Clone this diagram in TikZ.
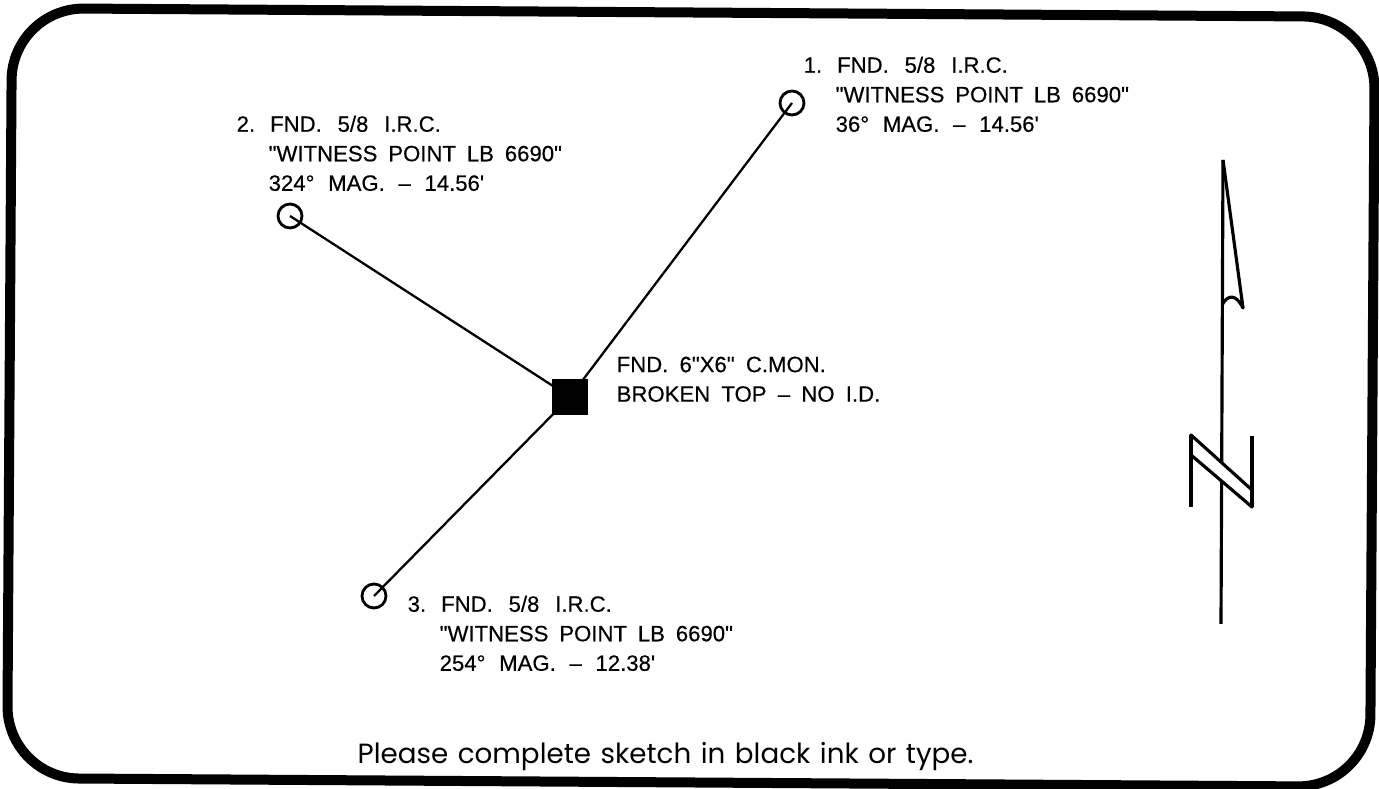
\documentclass[tikz,border=0pt]{standalone}
\usepackage{fontspec}
\newfontfamily\calloutFont{Liberation Sans}[FakeBold=0.4]
\newfontfamily\noteFont{Poppins}
\usepackage{xcolor}
\usepackage{tikz}
\usetikzlibrary{positioning}
\tikzset{
  pin/.style={draw, circle, thick, inner sep=0pt, minimum size=0.24cm},
  monument/.style={fill=black, inner sep=0pt, minimum size=0.36cm},
  callout/.style={align=left, anchor=north west, inner sep=0pt, font=\calloutFont\fontsize{6.3pt}{8.4pt}\selectfont},
  tie/.style={black, line width=0.65pt},
  arrowline/.style={black, line width=0.9pt, line join=round}
}
\newcommand{\wsp}[2]{{\spaceskip=#1\relax #2}}
\newcommand{\lbl}[2]{\wsp{4.5pt}{#1\hspace{0.15cm}FND. 5/8 I.R.C.}\\\hspace{0.32cm}\wsp{3.1pt}{"WITNESS POINT LB 6690"}\\\hspace{0.32cm}\wsp{3.9pt}{#2}}
\begin{document}
\begin{tikzpicture}
\useasboundingbox (0,0) rectangle (13.79,7.89);
\draw[black, line width=0.1cm, rounded corners=0.72cm, rotate around={-0.37:(6.91,3.915)}] (0.095,0.065) rectangle (13.725,7.765);
\node[pin] (p1) at (7.92,6.86) {};
\node[pin] (p2) at (2.90,5.73) {};
\node[pin] (p3) at (3.74,1.93) {};
\node[monument] (mon) at (5.70,3.92) {};
\draw[tie] (mon.center) -- (p1.center);
\draw[tie] (mon.center) -- (p2.center);
\draw[tie] (mon.center) -- (p3.center);
\node[callout] (lab1) at (8.03,7.33) {\lbl{1.}{36° MAG. – 14.56'}};
\node[callout] (lab2) at (2.36,6.74) {\lbl{2.}{324° MAG. – 14.56'}};
\node[callout] (lab3) at (4.07,1.94) {\lbl{3.}{254° MAG. – 12.38'}};
\node[callout] (labm) at (6.16,4.33) {\wsp{3.2pt}{FND. 6"X6" C.MON.}\\\wsp{3.2pt}{BROKEN TOP – NO I.D.}};
\node[anchor=base west, inner sep=0pt, font=\noteFont\fontsize{7.9pt}{9pt}\selectfont] (note) at (3.57,0.25) {\wsp{2.7pt}{Please complete sketch in black ink or type.}};
% north arrow
\coordinate (top) at (12.23,6.29);
\coordinate (bot) at (12.21,1.65);
\coordinate (tail) at (12.43,4.81);
\coordinate (notch) at (12.22,4.84);
\draw[arrowline] (top) -- (bot);
\draw[arrowline] (top) -- (tail) .. controls (12.36,4.95) and (12.28,4.95) .. (notch);
\filldraw[arrowline, fill=white] (11.91,3.54) -- (12.52,2.99) -- (12.52,2.82) -- (11.91,3.34) -- cycle;
\draw[arrowline] (11.91,3.54) -- (11.91,2.82);
\draw[arrowline] (12.52,3.53) -- (12.52,2.82);
\end{tikzpicture}
\end{document}
